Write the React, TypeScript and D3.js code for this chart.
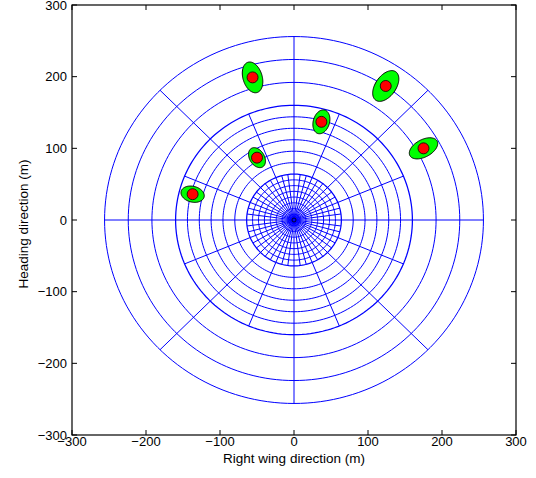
import React from "react";
import * as d3 from "d3";

// ---- data ----
const xTicks = [-300, -200, -100, 0, 100, 200, 300];
const yTicks = [-300, -200, -100, 0, 100, 200, 300];
const innerRings = [8, 16, 24, 32, 40, 48, 56];
const middleRings = [80, 96, 112, 128, 144];
const zoneBoundaries = [64, 160];
const outerRings = [192, 224, 256];
const innerSpokeStep = 7.5; // degrees, r 0..64
const middleSpokeStep = 22.5; // degrees, r 64..160
const outerSpokeStep = 45; // degrees, r 160..256

const targetX = [-137, -56, -50, 37, 124, 175];
const targetY = [36, 199, 87, 137, 187, 100];
const sigmaRadial = [16, 22, 15, 17, 24, 21];
const sigmaTangential = [11, 13, 10, 11, 14, 12];

const W = 536;
const H = 478;
const left = 72;
const right = 516;
const top = 5;
const bottom = 435;

export default function App() {
  const x = d3.scaleLinear().domain([-300, 300]).range([left, right]);
  const y = d3.scaleLinear().domain([-300, 300]).range([bottom, top]);
  const line = d3
    .line<[number, number]>()
    .x((d) => x(d[0]))
    .y((d) => y(d[1]));

  const ringPath = (r: number) => {
    const pts: [number, number][] = d3
      .range(0, 361, 2)
      .map((deg) => [r * Math.cos((deg * Math.PI) / 180), r * Math.sin((deg * Math.PI) / 180)]);
    return line(pts) + "Z";
  };
  const spokes = (step: number, r0: number, r1: number) =>
    d3.range(0, 360, step).map((deg) => {
      const a = (deg * Math.PI) / 180;
      return line([
        [r0 * Math.cos(a), r0 * Math.sin(a)],
        [r1 * Math.cos(a), r1 * Math.sin(a)],
      ]) as string;
    });

  const ellipsePath = (i: number) => {
    const cx = targetX[i];
    const cy = targetY[i];
    const th = Math.atan2(cy, cx);
    const a = sigmaRadial[i];
    const b = sigmaTangential[i];
    const pts: [number, number][] = d3.range(0, 361, 4).map((deg) => {
      const t = (deg * Math.PI) / 180;
      const u = a * Math.cos(t);
      const v = b * Math.sin(t);
      return [cx + u * Math.cos(th) - v * Math.sin(th), cy + u * Math.sin(th) + v * Math.cos(th)];
    });
    return line(pts) + "Z";
  };

  const blue = "#0000ff";
  const font = "'Liberation Sans', Arial, Helvetica, sans-serif";
  const fmt = (v: number) => (v < 0 ? "\u2212" + Math.abs(v) : String(v));

  const gridPaths: string[] = [
    ...innerRings.map(ringPath),
    ...middleRings.map(ringPath),
    ...outerRings.map(ringPath),
    ...spokes(innerSpokeStep, 0, 64),
    ...spokes(middleSpokeStep, 64, 160),
    ...spokes(outerSpokeStep, 160, 256),
  ];

  return (
    <svg
      width={W}
      height={H}
      style={{ position: "fixed", left: 0, top: 0, background: "#fff" }}
      fontFamily={font}
    >
      <rect x={0} y={0} width={W} height={H} fill="#fff" />
      <g fill="none" stroke={blue} strokeWidth={1}>
        {gridPaths.map((d, i) => (
          <path key={i} d={d} />
        ))}
        {zoneBoundaries.map((r) => (
          <path key={"zb" + r} d={ringPath(r)} strokeWidth={1.25} />
        ))}
      </g>
      <circle cx={x(0)} cy={y(0)} r={2} fill="none" stroke="#000" strokeWidth={0.8} />
      {targetX.map((_, i) => (
        <path key={"e" + i} d={ellipsePath(i)} fill="#00ff00" stroke="#000" strokeWidth={1} />
      ))}
      {targetX.map((tx, i) => (
        <circle key={"c" + i} cx={x(tx)} cy={y(targetY[i])} r={5.5} fill="#ff0000" stroke="#000" strokeWidth={0.8} />
      ))}
      {/* axes box */}
      <rect x={left} y={top} width={right - left} height={bottom - top} fill="none" stroke="#000" strokeWidth={1.2} />
      <g stroke="#000" strokeWidth={1}>
        {xTicks.map((t) => (
          <g key={"xt" + t}>
            <line x1={x(t)} x2={x(t)} y1={bottom} y2={bottom - 5} />
            <line x1={x(t)} x2={x(t)} y1={top} y2={top + 5} />
          </g>
        ))}
        {yTicks.map((t) => (
          <g key={"yt" + t}>
            <line x1={left} x2={left + 5} y1={y(t)} y2={y(t)} />
            <line x1={right} x2={right - 5} y1={y(t)} y2={y(t)} />
          </g>
        ))}
      </g>
      <g fontSize={13} fill="#000">
        {xTicks.map((t) => (
          <text key={"xl" + t} x={x(t)} y={bottom + 11} textAnchor="middle">
            {fmt(t)}
          </text>
        ))}
        {yTicks.map((t) => (
          <text key={"yl" + t} x={left - 5} y={y(t) + 4.5} textAnchor="end">
            {fmt(t)}
          </text>
        ))}
        <text x={(left + right) / 2} y={463} textAnchor="middle" fontSize={13.5}>
          Right wing direction (m)
        </text>
        <text transform={`translate(28, ${(top + bottom) / 2 + 4}) rotate(-90)`} textAnchor="middle" fontSize={13.5}>
          Heading direction (m)
        </text>
      </g>
    </svg>
  );
}
